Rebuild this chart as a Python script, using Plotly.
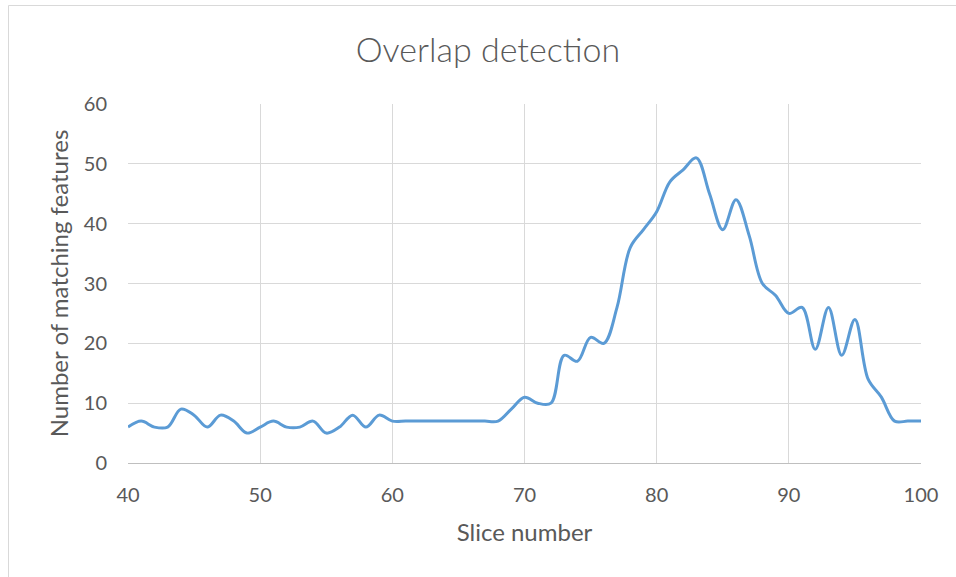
import plotly.graph_objects as go

slice_number = list(range(40, 101))
matching_features = [
    6, 7, 6, 6, 9, 8, 6, 8, 7, 5,      # 40-49
    6, 7, 6, 6, 7, 5, 6, 8, 6, 8,      # 50-59
    7, 7, 7, 7, 7, 7, 7, 7, 7, 9,      # 60-69
    11, 10, 10, 18, 17, 21, 20, 26, 36, 39,  # 70-79
    42, 47, 49, 51, 45, 39, 44, 38, 30, 28,  # 80-89
    25, 26, 19, 26, 18, 24, 14, 11, 7, 7,    # 90-99
    7,                                       # 100
]
x_ticks = [40, 50, 60, 70, 80, 90, 100]
y_ticks = [0, 10, 20, 30, 40, 50, 60]

W, H = 956, 577
L, R, T, B = 128, 35, 104, 114
pw, ph = W - L - R, H - T - B

fig = go.Figure()
fig.add_trace(go.Scatter(
    x=slice_number, y=matching_features, mode="lines",
    line=dict(color="#5b9bd5", width=3, shape="spline", smoothing=1),
    hoverinfo="x+y", showlegend=False,
))

font_fam = "Lato, 'Open Sans', sans-serif"
grey = "#595959"

def px_x(p):
    return (p - L) / pw

def px_y(p):
    return (H - B - p) / ph

fig.update_layout(
    width=W, height=H,
    margin=dict(l=L, r=R, t=T, b=B),
    paper_bgcolor="white", plot_bgcolor="white",
    font=dict(family=font_fam, color=grey),
    title=dict(text="Overlap detection", x=488 / W, xref="container", xanchor="center",
               y=1 - 50 / H, yref="container", yanchor="middle",
               font=dict(size=34, color=grey, family=font_fam, weight=300)),
    xaxis=dict(range=[40, 100], tickvals=x_ticks, showgrid=True, gridcolor="#d9d9d9",
               gridwidth=1, showline=True, linecolor="#bfbfbf", linewidth=1,
               zeroline=False, ticks="", tickfont=dict(size=20, color=grey),
               ticklabelstandoff=14,
               title=dict(text="Slice number", font=dict(size=24, color=grey), standoff=19)),
    yaxis=dict(range=[0, 60], tickvals=y_ticks, showgrid=True, gridcolor="#d9d9d9",
               gridwidth=1, showline=False, zeroline=False, ticks="",
               tickfont=dict(size=20, color=grey), ticklabelstandoff=20,
               title=dict(text="Number of matching features", font=dict(size=24, color=grey),
                          standoff=8)),
    shapes=[
        dict(type="line", xref="paper", yref="paper",
             x0=px_x(8.5), x1=px_x(8.5), y0=px_y(5.5), y1=px_y(H + 20),
             line=dict(color="#d9d9d9", width=1)),
        dict(type="line", xref="paper", yref="paper",
             x0=px_x(8.5), x1=px_x(W + 20), y0=px_y(5.5), y1=px_y(5.5),
             line=dict(color="#d9d9d9", width=1)),
    ],
)

fig.write_html(
    "out.html",
    config={"displayModeBar": False},
    post_script="document.body.style.margin='0';document.body.style.overflow='hidden';",
)
